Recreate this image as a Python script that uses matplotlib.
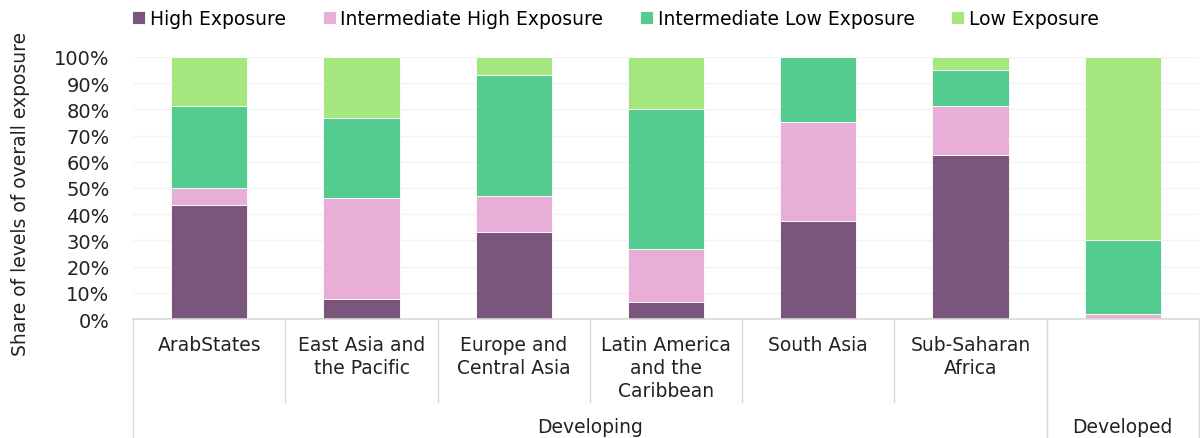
import matplotlib.pyplot as plt
from matplotlib.transforms import blended_transform_factory

# data (shares in %)
regions = ['ArabStates', 'East Asia and\nthe Pacific', 'Europe and\nCentral Asia',
           'Latin America\nand the\nCaribbean', 'South Asia', 'Sub-Saharan\nAfrica', '']
high = [43.5, 7.6, 33.2, 6.5, 37.4, 62.6, 0.0]
inter_high = [6.5, 38.6, 13.6, 20.2, 37.8, 18.7, 1.9]
inter_low = [31.2, 30.5, 46.4, 53.5, 24.8, 13.7, 28.3]
low = [18.8, 23.3, 6.8, 19.8, 0.0, 5.0, 69.8]
groups = ['Developing', 'Developed']
group_spans = [(-0.5, 5.5), (5.5, 6.5)]

series = [('High Exposure', high, '#7b567c'),
          ('Intermediate High Exposure', inter_high, '#e8aed8'),
          ('Intermediate Low Exposure', inter_low, '#54cc8f'),
          ('Low Exposure', low, '#a6e67e')]

plt.rcParams['font.family'] = ['DejaVu Sans']
fs = 13.5
fig = plt.figure(figsize=(12, 4.39), dpi=100)
ax = fig.add_axes([0.111, 0.271, 0.888, 0.597])

x = list(range(len(regions)))
bottom = [0.0] * len(regions)
for name, vals, col in series:
    ax.bar(x, vals, bottom=bottom, width=0.5, color=col, label=name,
           edgecolor='white', linewidth=0.6)
    bottom = [b + v for b, v in zip(bottom, vals)]

ax.set_xlim(-0.5, 6.5)
ax.set_ylim(0, 100)
ax.set_yticks(range(0, 101, 10))
ax.set_yticklabels([f'{t}%' for t in range(0, 101, 10)], fontsize=14, color='#222222')
ax.tick_params(axis='y', length=0, pad=17)
ax.set_xticks([])
ax.yaxis.grid(True, color='#f3f3f3', linewidth=1)
ax.set_axisbelow(True)
for s in ['top', 'right', 'left']:
    ax.spines[s].set_visible(False)
ax.spines['bottom'].set_color('#d9d9d9')
ax.spines['bottom'].set_linewidth(1.2)

ax.set_ylabel('Share of levels of overall exposure', fontsize=fs, color='#222222')
ax.yaxis.set_label_coords(-0.097, 0.48)

# category labels and separators
tr = blended_transform_factory(ax.transData, ax.transAxes)
for i, lab in enumerate(regions):
    ax.text(i, -0.062, lab, transform=tr, ha='center', va='top', fontsize=fs,
            color='#222222', linespacing=1.25)
for b in [0.5, 1.5, 2.5, 3.5, 4.5]:
    ax.plot([b, b], [0, -0.317], transform=tr, color='#d9d9d9', lw=1, clip_on=False)
for b in [-0.5, 5.5, 6.5]:
    ax.plot([b, b], [0, -0.46], transform=tr, color='#d9d9d9', lw=1, clip_on=False)
for g, (a, b) in zip(groups, group_spans):
    ax.text((a + b) / 2, -0.41, g, transform=tr, ha='center', va='center', fontsize=fs,
            color='#222222')

ax.legend(loc='lower left', bbox_to_anchor=(-0.008, 1.08), ncol=4, frameon=False,
          fontsize=fs, handlelength=0.7, handleheight=0.7, handletextpad=0.25,
          columnspacing=1.95, borderaxespad=0)

fig.savefig('out.png', dpi=100)
